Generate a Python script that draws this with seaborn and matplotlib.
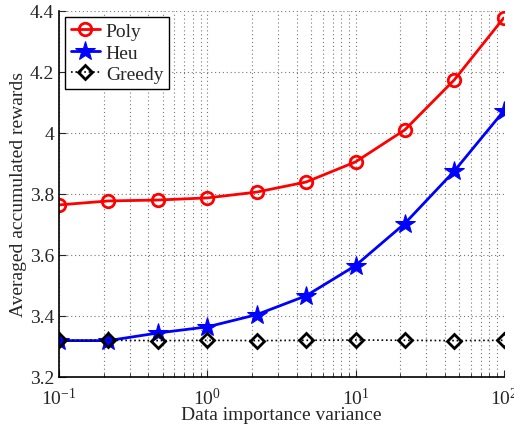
import seaborn as sns
import matplotlib.pyplot as plt
import numpy as np
import pandas as pd

# Data
variance = [0.1, 0.215, 0.464, 1.0, 2.15, 4.64, 10.0, 21.5, 46.4, 100.0]
poly = [3.764, 3.777, 3.780, 3.787, 3.806, 3.839, 3.905, 4.010, 4.174, 4.377]
heu = [3.319, 3.319, 3.344, 3.364, 3.404, 3.466, 3.565, 3.703, 3.875, 4.072]
greedy = [3.320, 3.320, 3.319, 3.320, 3.319, 3.320, 3.321, 3.320, 3.319, 3.320]

df = pd.DataFrame({'x': variance, 'Poly': poly, 'Heu': heu, 'Greedy': greedy})

sns.set_style('ticks')
plt.rcParams['font.family'] = ['Liberation Serif', 'DejaVu Serif']
plt.rcParams['mathtext.fontset'] = 'stix'

fig, ax = plt.subplots(figsize=(5.14, 4.27), dpi=100)

sns.lineplot(data=df, x='x', y='Poly', ax=ax, color='red', lw=2, marker='o',
             markersize=9, markerfacecolor='none', markeredgecolor='red',
             markeredgewidth=2, label='Poly')
sns.lineplot(data=df, x='x', y='Heu', ax=ax, color='blue', lw=2, marker='*',
             markersize=15, markerfacecolor='blue', markeredgecolor='blue',
             label='Heu')
sns.lineplot(data=df, x='x', y='Greedy', ax=ax, color='black', lw=1.2, ls=':',
             marker='D', markersize=7, markerfacecolor='none',
             markeredgecolor='black', markeredgewidth=2, label='Greedy')

ax.set_xscale('log')
ax.set_xlim(0.1, 100)
ax.set_ylim(3.2, 4.4)
ax.set_yticks([3.2, 3.4, 3.6, 3.8, 4.0, 4.2, 4.4])
ax.set_yticklabels(['3.2', '3.4', '3.6', '3.8', '4', '4.2', '4.4'])

ax.grid(True, which='major', ls=(0, (1, 2.5)), color='#777777', lw=0.8)
ax.grid(True, which='minor', axis='x', ls=(0, (1, 2.5)), color='#777777', lw=0.8)
ax.tick_params(which='both', direction='in', labelsize=14)
ax.tick_params(axis='x', which='major', pad=7)
ax.tick_params(which='major', length=5)
ax.tick_params(which='minor', length=3)
sns.despine(ax=ax)
for s in ['left', 'bottom']:
    ax.spines[s].set_color('black')
    ax.spines[s].set_linewidth(1.2)

ax.set_xlabel('Data importance variance', fontsize=14, labelpad=-1)
ax.set_ylabel('Averaged accumulated rewards', fontsize=14, labelpad=2)

leg = ax.legend(loc='upper left', fontsize=14, frameon=True, fancybox=False,
                edgecolor='black', framealpha=1, borderaxespad=0.3,
                handlelength=1.5, handletextpad=0.3, labelspacing=0.2,
                borderpad=0.3)
leg.get_frame().set_linewidth(1.0)

fig.subplots_adjust(left=0.115, right=0.98, top=0.972, bottom=0.115)
fig.savefig('out.png', dpi=100)
